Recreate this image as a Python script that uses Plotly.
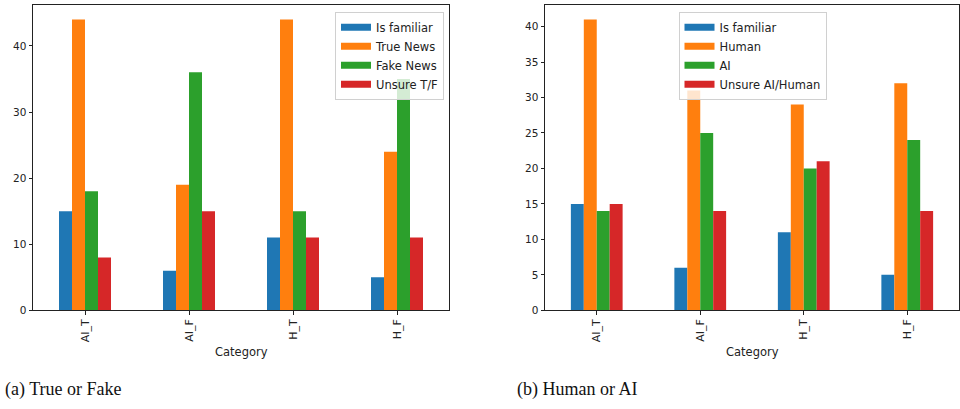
import plotly.graph_objects as go

categories = ["AI_T", "AI_F", "H_T", "H_F"]

# (a) True or Fake
tf_series = ["Is familiar", "True News", "Fake News", "Unsure T/F"]
tf_familiar = [15, 6, 11, 5]
tf_true = [44, 19, 44, 24]
tf_fake = [18, 36, 15, 35]
tf_unsure = [8, 15, 11, 11]

# (b) Human or AI
ha_series = ["Is familiar", "Human", "AI", "Unsure AI/Human"]
ha_familiar = [15, 6, 11, 5]
ha_human = [41, 31, 29, 32]
ha_ai = [14, 25, 20, 24]
ha_unsure = [15, 14, 21, 14]

yticks_a = [0, 10, 20, 30, 40]
yticks_b = [0, 5, 10, 15, 20, 25, 30, 35, 40]

colors = ["#1f77b4", "#ff7f0e", "#2ca02c", "#d62728"]

W = 960
HF = 402  # figure height (page adds a few px below)


def py(y_px):
    return 1 - y_px / HF


fig = go.Figure()

left_vals = [tf_familiar, tf_true, tf_fake, tf_unsure]
right_vals = [ha_familiar, ha_human, ha_ai, ha_unsure]

for name, vals, c in zip(tf_series, left_vals, colors):
    fig.add_trace(go.Bar(x=categories, y=vals, name=name, marker=dict(color=c, line=dict(width=0)),
                         xaxis="x", yaxis="y", showlegend=False))
for name, vals, c in zip(ha_series, right_vals, colors):
    fig.add_trace(go.Bar(x=categories, y=vals, name=name, marker=dict(color=c, line=dict(width=0)),
                         xaxis="x2", yaxis="y2", showlegend=False))

# legend entries (rectangular patches)
for name, c in zip(tf_series, colors):
    fig.add_trace(go.Scatter(x=[None], y=[None], mode="lines", name=name,
                             line=dict(color=c, width=7), xaxis="x", yaxis="y", legend="legend"))
for name, c in zip(ha_series, colors):
    fig.add_trace(go.Scatter(x=[None], y=[None], mode="lines", name=name,
                             line=dict(color=c, width=7), xaxis="x2", yaxis="y2", legend="legend2"))

axis_common = dict(showline=True, linecolor="#222", linewidth=1, mirror=True, showgrid=False,
                   zeroline=False, ticks="outside", ticklen=3.5, tickwidth=1, tickcolor="#222")
xfont = dict(family="DejaVu Sans", size=11, color="#222")
yfont = dict(family="DejaVu Sans", size=10.5, color="#222")
lab_font = dict(family="DejaVu Sans", size=11.5, color="#222")
leg_font = dict(family="DejaVu Sans", size=11.5, color="#222")
cap_font = dict(family="Liberation Serif", size=18, color="#111")

y_dom = [py(315), py(5)]

fig.update_layout(
    width=W, height=HF,
    margin=dict(l=0, r=0, t=0, b=0),
    paper_bgcolor="white", plot_bgcolor="white",
    barmode="group", bargap=0.5, bargroupgap=0,
    xaxis=dict(domain=[33 / W, 449 / W], anchor="y", type="category", range=[-0.5, 3.5],
               tickangle=-90, tickfont=xfont, **axis_common),
    yaxis=dict(domain=y_dom, anchor="x", range=[0, 46.2], tickvals=yticks_a, tickfont=yfont, **axis_common),
    xaxis2=dict(domain=[545 / W, 959 / W], anchor="y2", type="category", range=[-0.5, 3.5],
                tickangle=-90, tickfont=xfont, **axis_common),
    yaxis2=dict(domain=y_dom, anchor="x2", range=[0, 43.05], tickvals=yticks_b, tickfont=yfont, **axis_common),
    legend=dict(x=444 / W, y=py(12), xanchor="right", yanchor="top",
                bgcolor="rgba(255,255,255,0.8)", bordercolor="#d0d0d0", borderwidth=1,
                font=leg_font, tracegroupgap=0, itemwidth=30),
    legend2=dict(x=752.5 / W, y=py(12), xanchor="center", yanchor="top",
                 bgcolor="rgba(255,255,255,0.8)", bordercolor="#d0d0d0", borderwidth=1,
                 font=leg_font, tracegroupgap=0, itemwidth=30),
    annotations=[
        dict(text="Category", x=241 / W, y=py(357), xref="paper", yref="paper",
             xanchor="center", yanchor="middle", showarrow=False, font=lab_font),
        dict(text="Category", x=752 / W, y=py(357), xref="paper", yref="paper",
             xanchor="center", yanchor="middle", showarrow=False, font=lab_font),
        dict(text="(a) True or Fake", x=3 / W, y=py(395), xref="paper", yref="paper",
             xanchor="left", yanchor="middle", showarrow=False, font=cap_font),
        dict(text="(b) Human or AI", x=515 / W, y=py(395), xref="paper", yref="paper",
             xanchor="left", yanchor="middle", showarrow=False, font=cap_font),
    ],
)

fig.write_html("out.html")
